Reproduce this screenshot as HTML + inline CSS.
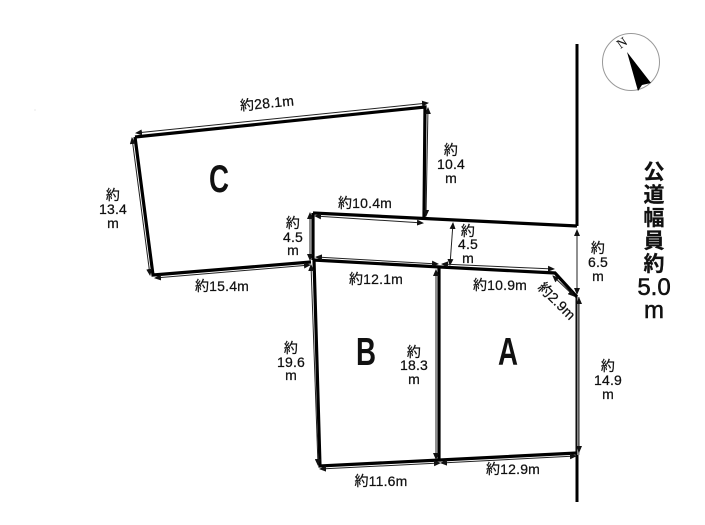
<!DOCTYPE html>
<html><head><meta charset="utf-8">
<style>
html,body{margin:0;padding:0;background:#fff}
svg{display:block}
text{font-family:"Liberation Sans","Noto Sans CJK JP",sans-serif;fill:#111;font-size:14px;letter-spacing:.2px;text-anchor:middle;stroke:#111;stroke-width:.25px}
.d{stroke:#222;stroke-width:1;fill:none;marker-start:url(#a);marker-end:url(#a)}
.k{stroke:#000;stroke-width:3.2;fill:none;stroke-linejoin:miter}
.big{font-size:39px;font-weight:bold;stroke-width:0;letter-spacing:0}
.rd{font-size:21px;font-weight:bold;letter-spacing:0}
.rn{font-size:24px;stroke-width:.5px;letter-spacing:0}
</style></head><body>
<svg width="705" height="525" viewBox="0 0 705 525" xmlns="http://www.w3.org/2000/svg">
<defs><marker id="a" markerWidth="7" markerHeight="6" refX="6" refY="3" orient="auto-start-reverse" markerUnits="userSpaceOnUse"><path d="M0 0L7 3L0 6Z" fill="#111"/></marker></defs>
<rect width="705" height="525" fill="#fff"/>

<!-- road edge -->
<path d="M577 44V226" stroke="#000" stroke-width="3" fill="none"/>
<path d="M578 297V455" stroke="#888" stroke-width="3" fill="none"/>
<path d="M576.2 297V455" stroke="#000" stroke-width="1.4" fill="none"/>
<path d="M577 455V502" stroke="#000" stroke-width="3" fill="none"/>

<!-- lot C -->
<path class="k" d="M135 137L425 107L424 217M135 137L153 275L311 262"/>
<!-- strip and lots -->
<path class="k" d="M313 213L577 226"/>
<path class="k" d="M313 213V260"/>
<path class="k" d="M313 260L440 267L555 273L577 297"/>
<path class="k" d="M314 260L320 466L440 460L577 453"/>
<path class="k" d="M439 267V460"/>

<!-- dimension lines -->
<path class="d" d="M136 133L428 103"/>
<path class="d" d="M132 138L150 275"/>
<path class="d" d="M155 278L310 265"/>
<path class="d" d="M428 108L426 216"/>
<path class="d" d="M315 216L423 223"/>
<path class="d" d="M310 213V260"/>
<path class="d" d="M453 223L450 265"/>
<path class="d" d="M316 257L438 264"/>
<path class="d" d="M442 264L554 269"/>
<path class="d" d="M553 276L574 296"/>
<path class="d" d="M577 230V294"/>
<path class="d" d="M311 265L318 465"/>
<path class="d" d="M436 270V459"/>
<path class="d" d="M579 298V452"/>
<path class="d" d="M320 469L440 463"/>
<path class="d" d="M441 463L576 456"/>

<!-- labels -->
<text x="267" y="108" transform="rotate(-5.5 267 103)">約28.1m</text>
<text x="113" y="200">約</text><text x="113" y="214">13.4</text><text x="113" y="228">m</text>
<text x="222" y="291">約15.4m</text>
<text x="451" y="155">約</text><text x="451" y="169">10.4</text><text x="451" y="183">m</text>
<text x="365" y="208">約10.4m</text>
<text x="293" y="228">約</text><text x="293" y="242">4.5</text><text x="293" y="255">m</text>
<text x="468" y="236">約</text><text x="468" y="249">4.5</text><text x="468" y="263">m</text>
<text x="376" y="284">約12.1m</text>
<text x="500" y="290">約10.9m</text>
<text transform="translate(557 301) rotate(45)" y="5">約2.9m</text>
<text x="598" y="253">約</text><text x="598" y="267">6.5</text><text x="598" y="281">m</text>
<text x="291" y="353">約</text><text x="291" y="367">19.6</text><text x="291" y="380">m</text>
<text x="414" y="357">約</text><text x="414" y="370">18.3</text><text x="414" y="384">m</text>
<text x="608" y="371">約</text><text x="608" y="385">14.9</text><text x="608" y="399">m</text>
<text x="381" y="486">約11.6m</text>
<text x="513" y="474">約12.9m</text>

<text class="big" x="219" y="192" textLength="20" lengthAdjust="spacingAndGlyphs">C</text>
<text class="big" x="366" y="365" textLength="20" lengthAdjust="spacingAndGlyphs">B</text>
<text class="big" x="508" y="365" textLength="20" lengthAdjust="spacingAndGlyphs">A</text>

<!-- road label -->
<text class="rd" x="654" y="179">公</text>
<text class="rd" x="654" y="202">道</text>
<text class="rd" x="654" y="225">幅</text>
<text class="rd" x="654" y="248">員</text>
<text class="rd" x="654" y="271">約</text>
<text class="rn" x="654" y="295">5.0</text>
<text class="rn" x="654" y="318">m</text>

<!-- compass -->
<circle cx="631" cy="62" r="28.5" fill="#fff" stroke="#999" stroke-width="1"/>
<path d="M627 52L651 83L642 85L638 91Z" fill="#000"/>
<text transform="translate(622 43) rotate(-35)" y="4" style="font-family:'Liberation Serif',serif;font-size:13px;stroke-width:.1px;letter-spacing:0">N</text>

<circle cx="35" cy="110" r=".4" fill="#999"/>
</svg>
</body></html>
